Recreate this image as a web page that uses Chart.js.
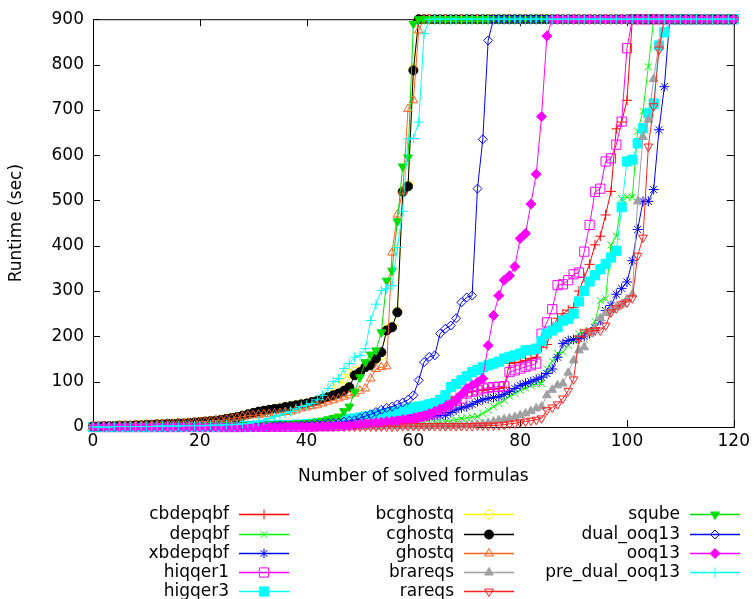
<!DOCTYPE html>
<html>
<head>
<meta charset="utf-8">
<script src="https://cdn.jsdelivr.net/npm/chart.js@4.4.1/dist/chart.umd.min.js"></script>
<style>
  html, body { margin: 0; padding: 0; background: #fff; }
</style>
</head>
<body>
<canvas id="cactusChart" width="754" height="599"></canvas>
<script>
// tick labels
const xTicks = [0, 20, 40, 60, 80, 100, 120];
const yTicks = [0, 100, 200, 300, 400, 500, 600, 700, 800, 900];

// runtime (sec) of the n-th solved formula, n = 0..120 (900 = timeout)
const cbdepqbf = [
  0, 0, 0, 0, 0, 0, 1, 1, 1, 1,
  1, 1, 1, 1, 1, 1, 1, 1, 1, 2,
  2, 2, 2, 2, 2, 2, 2, 2, 2, 2,
  2, 2, 2, 3, 3, 3, 3, 3, 3, 3,
  3, 3, 3, 3, 3, 4, 4, 4, 5, 6,
  7, 8, 9, 10, 12, 14, 16, 18, 20, 22,
  25, 28, 32, 36, 40, 45, 52, 58, 65, 72,
  76, 78, 80, 81, 83, 84, 85, 88, 140, 142,
  143, 147, 151, 154, 176, 182, 220, 240, 250, 258,
  264, 300, 330, 359, 402, 421, 468, 520, 658, 673,
  721, 900, 900, 900, 900, 900, 900, 900, 900, 900,
  900, 900, 900, 900, 900, 900, 900, 900, 900, 900,
  900
];
const depqbf = [
  0, 0, 0, 0, 0, 0, 0, 0, 0, 0,
  0, 0, 0, 1, 1, 1, 1, 1, 1, 1,
  1, 1, 1, 1, 1, 1, 1, 1, 1, 1,
  1, 1, 2, 2, 2, 2, 2, 2, 2, 2,
  2, 2, 2, 2, 2, 2, 3, 3, 3, 3,
  3, 3, 3, 4, 4, 4, 5, 5, 5, 6,
  6, 7, 7, 8, 9, 10, 12, 14, 16, 19,
  20, 22, 23, 30, 37, 45, 52, 59, 68, 74,
  81, 86, 92, 94, 96, 128, 145, 162, 165, 180,
  191, 206, 210, 213, 233, 279, 283, 402, 421, 504,
  507, 507, 653, 697, 795, 900, 900, 900, 900, 900,
  900, 900, 900, 900, 900, 900, 900, 900, 900, 900,
  900
];
const xbdepqbf = [
  0, 0, 0, 0, 0, 0, 0, 0, 1, 1,
  1, 1, 1, 1, 1, 1, 1, 1, 1, 1,
  1, 2, 2, 2, 2, 2, 2, 2, 2, 2,
  2, 2, 3, 3, 3, 3, 3, 3, 3, 3,
  4, 4, 4, 4, 5, 5, 5, 6, 6, 7,
  8, 9, 10, 11, 12, 13, 14, 15, 16, 18,
  19, 20, 21, 23, 24, 25, 26, 32, 38, 42,
  45, 50, 56, 60, 63, 65, 67, 72, 78, 85,
  92, 96, 100, 105, 110, 118, 128, 154, 184, 191,
  193, 195, 200, 206, 219, 235, 257, 268, 293, 306,
  320, 367, 436, 498, 498, 524, 656, 751, 900, 900,
  900, 900, 900, 900, 900, 900, 900, 900, 900, 900,
  900
];
const hiqqer1 = [
  0, 0, 0, 0, 0, 0, 0, 0, 0, 0,
  0, 0, 0, 0, 0, 0, 0, 0, 0, 0,
  0, 0, 0, 0, 0, 0, 0, 0, 0, 1,
  1, 1, 1, 1, 1, 1, 1, 1, 1, 1,
  1, 1, 2, 2, 2, 2, 3, 4, 4, 5,
  6, 7, 8, 9, 10, 11, 12, 14, 16, 18,
  20, 22, 25, 28, 32, 38, 45, 50, 58, 63,
  74, 78, 81, 85, 87, 88, 89, 90, 121, 125,
  129, 133, 136, 140, 206, 231, 260, 313, 315, 324,
  337, 341, 387, 446, 519, 526, 586, 593, 623, 674,
  836, 900, 900, 900, 900, 900, 900, 900, 900, 900,
  900, 900, 900, 900, 900, 900, 900, 900, 900, 900,
  900
];
const higqer3 = [
  0, 0, 0, 0, 0, 0, 0, 0, 0, 0,
  0, 0, 1, 1, 1, 1, 1, 1, 1, 1,
  1, 1, 1, 1, 2, 2, 2, 2, 2, 2,
  2, 3, 3, 3, 3, 4, 4, 4, 5, 5,
  6, 7, 8, 9, 10, 12, 14, 16, 18, 19,
  21, 23, 25, 27, 29, 31, 33, 35, 37, 40,
  43, 45, 47, 50, 53, 60, 70, 88, 95, 103,
  112, 121, 126, 132, 136, 140, 144, 151, 155, 158,
  162, 169, 170, 173, 190, 206, 213, 220, 235, 239,
  250, 277, 300, 321, 335, 348, 360, 374, 389, 485,
  586, 590, 626, 659, 692, 714, 842, 871, 900, 900,
  900, 900, 900, 900, 900, 900, 900, 900, 900, 900,
  900
];
const bcghostq = [
  1, 1, 2, 2, 2, 3, 3, 3, 4, 4,
  5, 5, 6, 6, 7, 7, 8, 8, 9, 10,
  11, 12, 13, 14, 16, 18, 20, 22, 25, 28,
  31, 34, 36, 38, 40, 42, 44, 46, 48, 50,
  52, 55, 58, 62, 66, 72, 90, 107, 118, 122,
  125, 132, 140, 150, 158, 215, 222, 255, 520, 535,
  790, 900, 900, 900, 900, 900, 900, 900, 900, 900,
  900, 900, 900, 900, 900, 900, 900, 900, 900, 900,
  900, 900, 900, 900, 900, 900, 900, 900, 900, 900,
  900, 900, 900, 900, 900, 900, 900, 900, 900, 900,
  900, 900, 900, 900, 900, 900, 900, 900, 900, 900,
  900, 900, 900, 900, 900, 900, 900, 900, 900, 900,
  900
];
const cghostq = [
  1, 1, 2, 2, 2, 3, 3, 3, 4, 4,
  5, 5, 6, 6, 7, 7, 8, 8, 9, 10,
  11, 12, 13, 14, 16, 18, 20, 22, 25, 28,
  31, 34, 36, 38, 40, 41, 44, 46, 48, 50,
  52, 55, 58, 62, 66, 70, 74, 80, 88, 114,
  121, 132, 136, 151, 165, 213, 220, 253, 519, 531,
  787, 900, 900, 900, 900, 900, 900, 900, 900, 900,
  900, 900, 900, 900, 900, 900, 900, 900, 900, 900,
  900, 900, 900, 900, 900, 900, 900, 900, 900, 900,
  900, 900, 900, 900, 900, 900, 900, 900, 900, 900,
  900, 900, 900, 900, 900, 900, 900, 900, 900, 900,
  900, 900, 900, 900, 900, 900, 900, 900, 900, 900,
  900
];
const ghostq = [
  1, 1, 2, 2, 2, 3, 3, 3, 4, 4,
  5, 5, 6, 6, 7, 7, 8, 8, 9, 10,
  11, 12, 13, 14, 15, 17, 19, 21, 23, 25,
  26, 27, 28, 29, 30, 31, 33, 34, 37, 41,
  43, 46, 48, 52, 56, 59, 63, 67, 70, 74,
  80, 85, 107, 128, 132, 134, 385, 469, 520, 702,
  721, 875, 900, 900, 900, 900, 900, 900, 900, 900,
  900, 900, 900, 900, 900, 900, 900, 900, 900, 900,
  900, 900, 900, 900, 900, 900, 900, 900, 900, 900,
  900, 900, 900, 900, 900, 900, 900, 900, 900, 900,
  900, 900, 900, 900, 900, 900, 900, 900, 900, 900,
  900, 900, 900, 900, 900, 900, 900, 900, 900, 900,
  900
];
const brareqs = [
  0, 0, 0, 0, 0, 0, 0, 0, 0, 0,
  0, 0, 0, 0, 0, 0, 1, 1, 1, 1,
  1, 1, 1, 1, 1, 1, 1, 1, 1, 1,
  1, 1, 1, 1, 1, 1, 1, 1, 1, 1,
  1, 1, 1, 1, 1, 1, 1, 1, 1, 1,
  1, 1, 1, 1, 1, 2, 2, 2, 2, 2,
  2, 2, 2, 2, 3, 3, 3, 3, 3, 4,
  4, 5, 6, 7, 9, 12, 15, 17, 19, 22,
  26, 30, 35, 41, 45, 70, 82, 92, 96, 120,
  147, 169, 176, 206, 217, 240, 251, 258, 264, 271,
  282, 293, 498, 640, 678, 768, 846, 900, 900, 900,
  900, 900, 900, 900, 900, 900, 900, 900, 900, 900,
  900
];
const rareqs = [
  0, 0, 0, 0, 0, 0, 0, 0, 0, 0,
  0, 0, 0, 0, 0, 0, 0, 0, 0, 0,
  0, 0, 0, 0, 0, 0, 0, 0, 0, 0,
  0, 0, 0, 0, 0, 1, 1, 1, 1, 1,
  1, 1, 1, 1, 1, 1, 1, 1, 1, 1,
  1, 1, 1, 1, 1, 1, 1, 1, 2, 2,
  2, 2, 2, 2, 2, 2, 2, 2, 2, 2,
  2, 2, 3, 3, 3, 3, 4, 5, 7, 8,
  10, 12, 14, 16, 19, 37, 43, 50, 63, 80,
  105, 195, 209, 211, 213, 213, 224, 253, 262, 271,
  275, 284, 378, 418, 619, 708, 833, 900, 900, 900,
  900, 900, 900, 900, 900, 900, 900, 900, 900, 900,
  900
];
const sqube = [
  0, 0, 0, 0, 1, 1, 1, 1, 1, 1,
  1, 1, 1, 2, 2, 2, 2, 2, 2, 3,
  3, 3, 3, 3, 3, 4, 4, 4, 4, 5,
  5, 5, 5, 6, 6, 6, 7, 7, 8, 8,
  9, 10, 12, 14, 17, 20, 23, 35, 45, 78,
  110, 143, 160, 169, 209, 323, 345, 454, 575, 595,
  890, 900, 900, 900, 900, 900, 900, 900, 900, 900,
  900, 900, 900, 900, 900, 900, 900, 900, 900, 900,
  900, 900, 900, 900, 900, 900, 900, 900, 900, 900,
  900, 900, 900, 900, 900, 900, 900, 900, 900, 900,
  900, 900, 900, 900, 900, 900, 900, 900, 900, 900,
  900, 900, 900, 900, 900, 900, 900, 900, 900, 900,
  900
];
const dual_ooq13 = [
  0, 0, 0, 0, 0, 0, 0, 0, 0, 0,
  0, 0, 0, 0, 1, 1, 1, 1, 1, 1,
  1, 1, 1, 1, 1, 1, 1, 2, 2, 2,
  2, 2, 2, 2, 3, 3, 3, 3, 3, 4,
  4, 5, 6, 7, 8, 9, 10, 12, 14, 15,
  20, 24, 28, 33, 38, 42, 45, 50, 54, 60,
  70, 103, 143, 155, 158, 206, 217, 224, 240, 275,
  286, 290, 526, 635, 853, 900, 900, 900, 900, 900,
  900, 900, 900, 900, 900, 900, 900, 900, 900, 900,
  900, 900, 900, 900, 900, 900, 900, 900, 900, 900,
  900, 900, 900, 900, 900, 900, 900, 900, 900, 900,
  900, 900, 900, 900, 900, 900, 900, 900, 900, 900,
  900
];
const ooq13 = [
  0, 0, 0, 0, 0, 0, 0, 0, 0, 0,
  0, 0, 0, 0, 0, 0, 0, 0, 0, 0,
  0, 0, 0, 0, 0, 0, 0, 0, 0, 0,
  0, 0, 0, 0, 0, 0, 1, 1, 1, 1,
  1, 1, 1, 2, 2, 2, 3, 3, 4, 5,
  7, 8, 9, 10, 11, 12, 13, 14, 16, 17,
  19, 21, 25, 30, 35, 40, 45, 50, 59, 72,
  85, 92, 99, 107, 180, 246, 290, 324, 334, 354,
  416, 427, 492, 558, 685, 863, 900, 900, 900, 900,
  900, 900, 900, 900, 900, 900, 900, 900, 900, 900,
  900, 900, 900, 900, 900, 900, 900, 900, 900, 900,
  900, 900, 900, 900, 900, 900, 900, 900, 900, 900,
  900
];
const pre_dual_ooq13 = [
  0, 0, 0, 0, 1, 1, 1, 1, 1, 1,
  1, 1, 2, 2, 2, 2, 2, 3, 3, 3,
  3, 3, 4, 4, 4, 5, 5, 6, 7, 8,
  10, 12, 15, 19, 23, 26, 30, 34, 40, 45,
  48, 52, 60, 70, 85, 100, 107, 129, 140, 154,
  158, 173, 235, 271, 301, 305, 312, 396, 476, 636,
  637, 673, 868, 900, 900, 900, 900, 900, 900, 900,
  900, 900, 900, 900, 900, 900, 900, 900, 900, 900,
  900, 900, 900, 900, 900, 900, 900, 900, 900, 900,
  900, 900, 900, 900, 900, 900, 900, 900, 900, 900,
  900, 900, 900, 900, 900, 900, 900, 900, 900, 900,
  900, 900, 900, 900, 900, 900, 900, 900, 900, 900,
  900
];

const series = [
  ['cbdepqbf', cbdepqbf], ['depqbf', depqbf], ['xbdepqbf', xbdepqbf],
  ['hiqqer1', hiqqer1], ['higqer3', higqer3], ['bcghostq', bcghostq],
  ['cghostq', cghostq], ['ghostq', ghostq], ['brareqs', brareqs],
  ['rareqs', rareqs], ['sqube', sqube], ['dual_ooq13', dual_ooq13],
  ['ooq13', ooq13], ['pre_dual_ooq13', pre_dual_ooq13]
];

// line colour, point style, filled?, rotation, radius
const looks = [
  { color: '#ff0000', style: 'cross', fill: false, rot: 0, r: 5 },
  { color: '#00ff00', style: 'crossRot', fill: false, rot: 0, r: 5 },
  { color: '#0000ff', style: 'star', fill: false, rot: 0, r: 5 },
  { color: '#ff00ff', style: 'rect', fill: false, rot: 0, r: 6.5 },
  { color: '#00ffff', style: 'rect', fill: true, rot: 0, r: 6.5 },
  { color: '#ffff00', style: 'circle', fill: false, rot: 0, r: 4.5 },
  { color: '#000000', style: 'circle', fill: true, rot: 0, r: 4.5 },
  { color: '#ff6020', style: 'triangle', fill: false, rot: 0, r: 5 },
  { color: '#a0a0a0', style: 'triangle', fill: true, rot: 0, r: 5 },
  { color: '#ff2020', style: 'triangle', fill: false, rot: 180, r: 5 },
  { color: '#00dd00', style: 'triangle', fill: true, rot: 180, r: 5 },
  { color: '#0000ff', style: 'rectRot', fill: false, rot: 0, r: 4.5 },
  { color: '#ff00ff', style: 'rectRot', fill: true, rot: 0, r: 5 },
  { color: '#00ffff', style: 'cross', fill: false, rot: 0, r: 5 }
];

const FONT = "'DejaVu Sans', sans-serif";
const FSIZE = 17;

const datasets = series.map(([name, vals], i) => {
  const lk = looks[i];
  return {
    label: name,
    data: vals.map((v, n) => ({ x: n, y: v })),
    borderColor: lk.color,
    borderWidth: 1,
    pointStyle: lk.style,
    pointRotation: lk.rot,
    pointRadius: lk.r,
    pointBorderWidth: 1,
    pointBorderColor: lk.color,
    pointBackgroundColor: lk.fill ? lk.color : 'rgba(0,0,0,0)',
    tension: 0,
    clip: false,
    order: -i
  };
});

const gnuplotFrame = {
  id: 'gnuplotFrame',
  beforeDatasetsDraw(chart) {
    const { ctx, chartArea: a, scales: { x, y } } = chart;
    ctx.save();
    ctx.strokeStyle = '#000';
    ctx.lineWidth = 1;
    ctx.strokeRect(a.left + 0.5, a.top + 0.5, a.right - a.left, a.bottom - a.top);
    ctx.beginPath();
    xTicks.forEach(v => {
      const px = Math.round(x.getPixelForValue(v)) + 0.5;
      ctx.moveTo(px, a.bottom); ctx.lineTo(px, a.bottom - 7);
      ctx.moveTo(px, a.top); ctx.lineTo(px, a.top + 7);
    });
    yTicks.forEach(v => {
      const py = Math.round(y.getPixelForValue(v)) + 0.5;
      ctx.moveTo(a.left, py); ctx.lineTo(a.left + 7, py);
      ctx.moveTo(a.right, py); ctx.lineTo(a.right - 7, py);
    });
    ctx.stroke();
    ctx.restore();
  },
  afterDraw(chart) {
    const { ctx, chartArea: a } = chart;
    ctx.save();
    ctx.fillStyle = '#000';
    ctx.font = FSIZE + 'px ' + FONT;
    ctx.textBaseline = 'middle';
    ctx.textAlign = 'center';
    ctx.fillText('Number of solved formulas', (a.left + a.right) / 2, 477);
    ctx.save();
    ctx.translate(17, (a.top + a.bottom) / 2);
    ctx.rotate(-Math.PI / 2);
    ctx.fillText('Runtime (sec)', 0, 0);
    ctx.restore();

    // key: 3 columns, text right aligned, then a line sample with marker
    const colRight = [229, 454, 680];
    const rowY = [514, 534, 553, 572, 591];
    const perCol = [5, 5, 4];
    chart.data.datasets.forEach((ds, i) => {
      let col = 0, idx = i;
      while (idx >= perCol[col]) { idx -= perCol[col]; col++; }
      const yy = Math.round(rowY[idx]) + 0.5;
      const tx = colRight[col];
      ctx.fillStyle = '#000';
      ctx.textAlign = 'right';
      ctx.fillText(ds.label, tx, yy);
      const x0 = tx + 10, x1 = tx + 60;
      ctx.strokeStyle = ds.borderColor;
      ctx.lineWidth = 1.5;
      ctx.beginPath();
      ctx.moveTo(x0, yy);
      ctx.lineTo(x1, yy);
      ctx.stroke();
      ctx.lineWidth = 1;
      ctx.fillStyle = ds.pointBackgroundColor;
      Chart.helpers.drawPoint(ctx, {
        pointStyle: ds.pointStyle, rotation: ds.pointRotation,
        radius: ds.pointRadius, borderWidth: 1
      }, (x0 + x1) / 2, yy);
    });
    ctx.restore();
  }
};

const ctx = document.getElementById('cactusChart').getContext('2d');
const cactusChart = new Chart(ctx, {
  type: 'line',
  data: { datasets },
  options: {
    responsive: false,
    animation: false,
    layout: { padding: { left: 0, right: 17, top: 17, bottom: 0 } },
    plugins: { legend: { display: false }, tooltip: { enabled: false } },
    elements: { line: { tension: 0 } },
    scales: {
      x: {
        type: 'linear', min: 0, max: 120,
        afterBuildTicks: s => { s.ticks = xTicks.map(v => ({ value: v })); },
        afterFit: s => { s.height = 172; },
        ticks: { color: '#000', font: { family: FONT, size: FSIZE }, padding: 4, maxRotation: 0 },
        grid: { display: false, drawTicks: false },
        border: { display: false }
      },
      y: {
        type: 'linear', min: 0, max: 900,
        afterBuildTicks: s => { s.ticks = yTicks.map(v => ({ value: v })); },
        afterFit: s => { s.width = 93; },
        ticks: { color: '#000', font: { family: FONT, size: FSIZE }, padding: 9 },
        grid: { display: false, drawTicks: false },
        border: { display: false }
      }
    }
  },
  plugins: [gnuplotFrame]
});
</script>
</body>
</html>
